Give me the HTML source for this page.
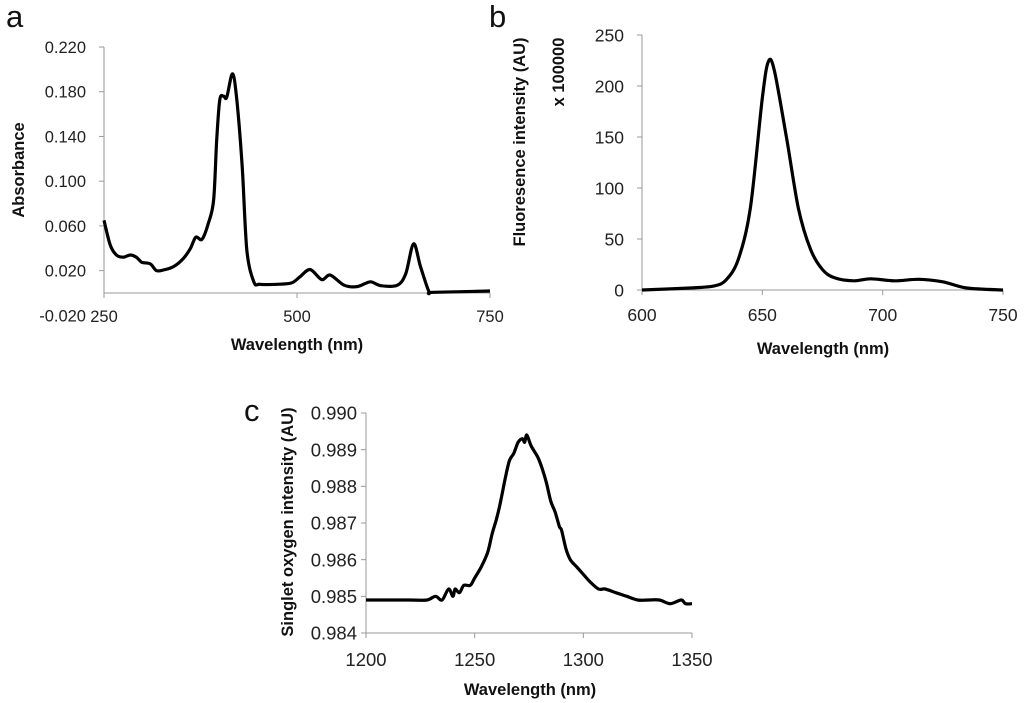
<!DOCTYPE html>
<html><head><meta charset="utf-8"><style>
html,body{margin:0;padding:0;background:#fff;}
svg{display:block;font-family:"Liberation Sans",sans-serif;}
.tick{fill:#222;}
.title{font-size:16.5px;font-weight:bold;fill:#111;}
.letter{font-size:31px;fill:#111;}
</style></head><body>
<svg id="fig" width="1024" height="703" viewBox="0 0 1024 703"></svg>
<script>
// Panel a: absorbance
const aWave=[250,258,266,275,284,292,299,310,318,327,340,353,362,369,377,385,392,396,400,405,409,416.5,422,429,435,444,452,474,493,504,517,532,543,561,578,595,608,630,641,651,660,671,677,750];
const aAbs=[0.065,0.043,0.034,0.032,0.034,0.032,0.0275,0.026,0.020,0.0206,0.0236,0.031,0.040,0.050,0.048,0.062,0.083,0.137,0.173,0.176,0.175,0.196,0.173,0.113,0.0385,0.010,0.0078,0.0078,0.009,0.0146,0.021,0.012,0.016,0.007,0.0057,0.010,0.0066,0.007,0.0176,0.044,0.0236,0.0012,0.0006,0.0018];
const aYTicks=["-0.020","0.020","0.060","0.100","0.140","0.180","0.220"];
const aYTickVals=[-0.02,0.02,0.06,0.10,0.14,0.18,0.22];
const aXTicks=[250,500,750];
// Panel b: fluorescence
const bWave=[600,620,630,635,640,645,650,652.5,655,660,665,670,675,680,688,695,705,715,725,735,750];
const bInt=[0,2,4,10,30,80,188,224,215,150,80,40,20,12,9,11,9,10.5,8,2,0];
const bYTicks=[0,50,100,150,200,250];
const bXTicks=[600,650,700,750];
// Panel c: singlet oxygen
const cWave=[1200,1202,1210,1220,1228,1232,1235,1238,1240,1241,1243,1245,1248,1250,1253,1256,1258,1260,1262,1264,1266,1268,1270,1272,1273,1274,1276,1279,1281,1283,1285,1287,1289,1290,1292,1294,1297,1300,1303,1307,1310,1315,1320,1325,1330,1335,1340,1345,1347,1350];
const cInt=[0.9849,0.9849,0.9849,0.9849,0.9849,0.9850,0.9849,0.9852,0.9850,0.9852,0.9851,0.9853,0.9853,0.9855,0.9858,0.9862,0.9867,0.9871,0.9876,0.9882,0.9887,0.9889,0.9892,0.9893,0.9892,0.9894,0.9891,0.9888,0.9885,0.9881,0.9876,0.9873,0.9869,0.9868,0.9863,0.9860,0.9858,0.9856,0.9854,0.9852,0.9852,0.9851,0.9850,0.9849,0.9849,0.9849,0.9848,0.9849,0.9848,0.9848];
const cYTicks=["0.984","0.985","0.986","0.987","0.988","0.989","0.990"];
const cYTickVals=[0.984,0.985,0.986,0.987,0.988,0.989,0.990];
const cXTicks=[1200,1250,1300,1350];

const NS="http://www.w3.org/2000/svg";
const svg=document.getElementById('fig');
function mk(tag,attrs,parent){const e=document.createElementNS(NS,tag);for(const k in attrs)e.setAttribute(k,attrs[k]);(parent||svg).appendChild(e);return e;}
function txt(s,attrs,parent){const e=mk('text',attrs,parent);e.textContent=s;return e;}
function smooth(pts){
  let d='M'+pts[0][0].toFixed(1)+' '+pts[0][1].toFixed(1);
  for(let i=0;i<pts.length-1;i++){
    const p0=pts[Math.max(0,i-1)],p1=pts[i],p2=pts[i+1],p3=pts[Math.min(pts.length-1,i+2)];
    const t=0.16;
    const c1=[p1[0]+(p2[0]-p0[0])*t,p1[1]+(p2[1]-p0[1])*t];
    const c2=[p2[0]-(p3[0]-p1[0])*t,p2[1]-(p3[1]-p1[1])*t];
    d+=` C${c1[0].toFixed(1)} ${c1[1].toFixed(1)} ${c2[0].toFixed(1)} ${c2[1].toFixed(1)} ${p2[0].toFixed(1)} ${p2[1].toFixed(1)}`;
  }
  return d;
}

function panel(o){
  const g=mk('g',{});
  
  
  const sx=v=>o.x0+(v-o.xmin)/(o.xmax-o.xmin)*(o.x1-o.x0);
  const sy=v=>o.y0-(v-o.ymin)/(o.ymax-o.ymin)*(o.y0-o.y1);
  const ya=mk('line',{x1:o.x0,x2:o.x0,y1:o.y1,y2:o.yAxisBottom,stroke:'#999','stroke-width':1},g);
  
  
  const xa=mk('line',{x1:o.x0,x2:o.x1,y1:o.xAxisY,y2:o.xAxisY,stroke:'#999','stroke-width':1},g);
  
  
  o.yVals.forEach((v,i)=>{
    const y=sy(v);
    if(v>=o.ymin) mk('line',{x1:o.x0-5,x2:o.x0,y1:y,y2:y,stroke:'#999'},g);
    const t=txt(o.yLabels[i],{x:o.x0-o.yLabOff,y:y+o.fs*0.36,'text-anchor':'end',class:'tick','font-size':o.fs},g);
    
    
  });
  o.xVals.forEach(v=>{
    const x=sx(v);
    mk('line',{x1:x,x2:x,y1:o.xAxisY,y2:o.xAxisY+5,stroke:'#999'},g);
    const t=txt(String(v),{x:x,y:o.xLabelY,'text-anchor':'middle',class:'tick','font-size':o.fs},g);
    
    
  });
  const pts=o.xs.map((v,i)=>[sx(v),sy(o.ys[i])]);
  const p=mk('path',{d:smooth(pts),fill:'none',stroke:'#000','stroke-width':3.2,'stroke-linejoin':'round'},g);
  
  
  const xt=txt(o.xTitle,{x:o.xTitlePos[0],y:o.xTitlePos[1],'text-anchor':'middle',class:'title'},g);
  
  
  o.yTitles.forEach(yt=>{
    const t=txt(yt[0],{x:0,y:0,'text-anchor':'middle',class:'title',transform:`translate(${yt[1]},${yt[2]}) rotate(-90)`},g);
    
    
  });
  const L=txt(o.letter,{x:o.letterPos[0],y:o.letterPos[1],class:'letter'},g);
  
  
}

panel({name:'panel-a-absorbance',x0:104,x1:490,xmin:250,xmax:750,y0:293,y1:47,ymin:0,ymax:0.22,fs:16.5,yLabOff:18,
  yAxisBottom:293,xAxisY:293,xLabelY:322,yVals:aYTickVals,yLabels:aYTicks,xVals:aXTicks,
  xs:aWave,ys:aAbs,xTitle:'Wavelength (nm)',xTitlePos:[297,350],
  yTitles:[['Absorbance',24,170]],letter:'a',letterPos:[6,27]});
panel({name:'panel-b-fluorescence',x0:642,x1:1003,xmin:600,xmax:750,y0:290,y1:35,ymin:0,ymax:250,fs:17.5,yLabOff:18,
  yAxisBottom:290,xAxisY:290,xLabelY:321,yVals:bYTicks,yLabels:bYTicks.map(String),xVals:bXTicks,
  xs:bWave,ys:bInt,xTitle:'Wavelength (nm)',xTitlePos:[823,354],
  yTitles:[['Fluoresence intensity (AU)',525,142],['x 100000',564,72]],letter:'b',letterPos:[489,27]});
panel({name:'panel-c-singlet-oxygen',x0:366,x1:692,xmin:1200,xmax:1350,y0:633,y1:413,ymin:0.984,ymax:0.990,fs:18.5,yLabOff:9,
  yAxisBottom:633,xAxisY:633,xLabelY:666,yVals:cYTickVals,yLabels:cYTicks,xVals:cXTicks,
  xs:cWave,ys:cInt,xTitle:'Wavelength (nm)',xTitlePos:[530,695],
  yTitles:[['Singlet oxygen intensity (AU)',293,522]],letter:'c',letterPos:[244,421]});
</script>
</body></html>
